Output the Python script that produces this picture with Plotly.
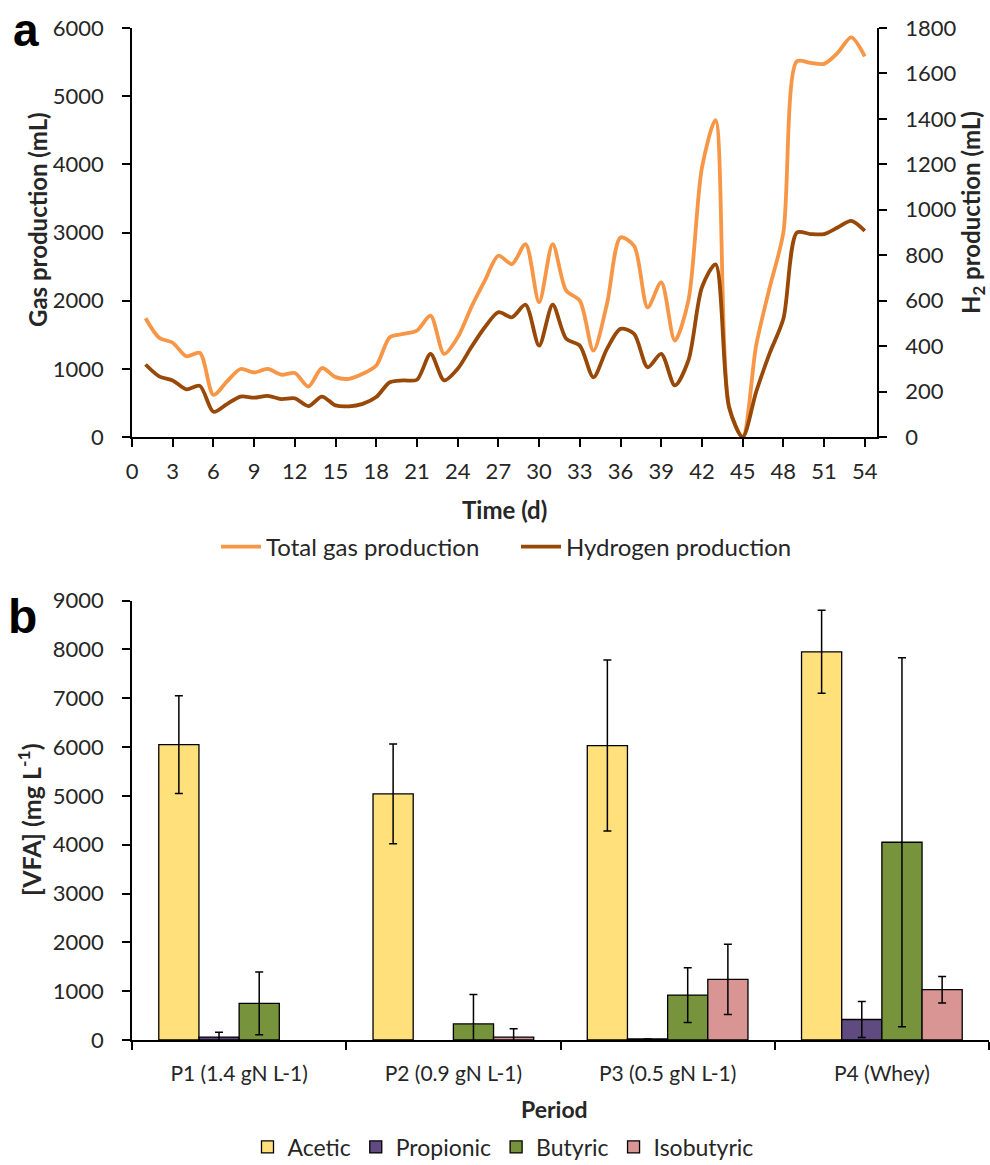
import plotly.graph_objects as go

# ---------------- data ----------------
days = list(range(1, 55))
total_gas = [1743, 1457, 1383, 1185, 1235, 617, 815, 998, 948, 998, 914, 938, 741, 1012,
             878, 854, 927, 1049, 1463, 1512, 1561, 1780, 1220, 1463, 1902, 2293, 2659, 2537,
             2829, 1976, 2829, 2146, 2000, 1268, 1951, 2927, 2805, 1902, 2268, 1415, 2000, 3951,
             4650, 450, 0, 1350, 2200, 3000, 5512, 5488, 5473, 5634, 5863, 5585]
hydrogen = [319, 267, 249, 210, 225, 111, 145, 178, 173, 181, 167, 170, 136, 178,
            139, 135, 146, 176, 241, 249, 252, 366, 249, 300, 395, 483, 549, 527,
            582, 402, 582, 432, 402, 263, 388, 476, 454, 307, 366, 227, 337, 659,
            760, 130, 0, 200, 370, 520, 900, 893, 893, 922, 951, 907]
day_ticks = list(range(0, 55, 3))

periods = ["P1 (1.4 gN L-1)", "P2 (0.9 gN L-1)", "P3 (0.5 gN L-1)", "P4 (Whey)"]
acetic = [6050, 5040, 6030, 7950]
acetic_err = [1000, 1020, 1750, 850]
propionic = [60, None, 20, 420]
propionic_err = [100, None, None, 370]
butyric = [750, 330, 920, 4050]
butyric_err = [640, 600, 560, 3780]
isobutyric = [None, 60, 1240, 1030]
isobutyric_err = [None, 170, 720, 270]

# ---------------- styling ----------------
W, H = 990, 1165
FONT = "Lato"
TXT = "#262626"
ORANGE = "#F79646"
BROWN = "#984807"
C_ACE, C_PRO, C_BUT, C_ISO = "#FFE07A", "#5F4B7F", "#77933C", "#D99594"


def px_x(p):
    return p / W


def px_y(p):
    return 1 - p / H


fig = go.Figure()

fig.add_trace(go.Scatter(x=days, y=total_gas, name="Total gas production", mode="lines",
                         line=dict(color=ORANGE, width=3.8, shape="spline", smoothing=0.8),
                         xaxis="x", yaxis="y", legend="legend"))
fig.add_trace(go.Scatter(x=days, y=hydrogen, name="Hydrogen production", mode="lines",
                         line=dict(color=BROWN, width=3.8, shape="spline", smoothing=0.8),
                         xaxis="x", yaxis="y2", legend="legend"))

for name, vals, errs, col in [("Acetic", acetic, acetic_err, C_ACE),
                              ("Propionic", propionic, propionic_err, C_PRO),
                              ("Butyric", butyric, butyric_err, C_BUT),
                              ("Isobutyric", isobutyric, isobutyric_err, C_ISO)]:
    fig.add_trace(go.Bar(x=periods, y=vals, name=name,
                         marker=dict(color=col, line=dict(color="black", width=1.3)),
                         error_y=dict(type="data", array=errs, visible=True,
                                      color="black", thickness=1.5, width=4),
                         xaxis="x2", yaxis="y3", legend="legend2"))


def axis_style(size=22, standoff=12):
    return dict(showline=True, linecolor="black", linewidth=1.5, showgrid=False,
                zeroline=False, ticks="outside", ticklen=8, tickwidth=1.5,
                tickcolor="black", automargin=False, ticklabelstandoff=standoff,
                tickfont=dict(family=FONT, size=size, color=TXT))


top_dom_x = [px_x(132), px_x(877)]
top_dom_y = [px_y(437), px_y(28)]
bot_dom_x = [px_x(132), px_x(989)]
bot_dom_y = [px_y(1040), px_y(600.5)]

fig.update_layout(
    width=W, height=H,
    margin=dict(l=0, r=0, t=0, b=0, autoexpand=False),
    paper_bgcolor="white", plot_bgcolor="white",
    font=dict(family=FONT, color=TXT),
    barmode="group", bargap=0.25, bargroupgap=0,
    xaxis=dict(domain=top_dom_x, anchor="y", range=[0, 54.9], tickvals=day_ticks,
               **axis_style(22, 6)),
    yaxis=dict(domain=top_dom_y, anchor="x", range=[0, 6000], dtick=1000,
               **axis_style(22, 14)),
    yaxis2=dict(overlaying="y", side="right", anchor="x", range=[0, 1800], dtick=200,
                **axis_style(22, 14)),
    xaxis2=dict(domain=bot_dom_x, anchor="y3", type="category", range=[-0.5, 3.5],
                tickson="boundaries", **axis_style(21, 14)),
    yaxis3=dict(domain=bot_dom_y, anchor="x2", range=[0, 9000], dtick=1000,
                **axis_style(22, 14)),
    legend=dict(orientation="h", x=px_x(216), xanchor="left", y=px_y(547), yanchor="middle",
                font=dict(family=FONT, size=24, color=TXT), bgcolor="rgba(0,0,0,0)",
                itemwidth=40, entrywidth=245, entrywidthmode="pixels"),
    legend2=dict(orientation="h", x=px_x(503), xanchor="center", y=px_y(1147),
                 yanchor="middle", font=dict(family=FONT, size=23, color=TXT),
                 bgcolor="rgba(0,0,0,0)", itemwidth=30),
    showlegend=True,
)

ann = [
    dict(text="<b>a</b>", x=px_x(26), y=px_y(30), font=dict(family="Liberation Sans", size=46,
                                                         color="black")),
    dict(text="<b>b</b>", x=px_x(22), y=px_y(616), font=dict(family="Liberation Sans", size=48,
                                                          color="black")),
    dict(text="<b>Gas production (mL)</b>", x=px_x(37), y=px_y(220), textangle=-90,
         font=dict(family=FONT, size=24, color=TXT)),
    dict(text="<b>H<sub>2</sub> production (mL)</b>", x=px_x(972), y=px_y(213), textangle=-90,
         font=dict(family=FONT, size=24, color=TXT)),
    dict(text="<b>Time (d)</b>", x=px_x(505), y=px_y(509),
         font=dict(family=FONT, size=24, color=TXT)),
    dict(text="<b>[VFA] (mg L<sup>-1</sup>)</b>", x=px_x(29), y=px_y(820), textangle=-90,
         font=dict(family=FONT, size=25, color=TXT)),
    dict(text="<b>Period</b>", x=px_x(554), y=px_y(1109),
         font=dict(family=FONT, size=23, color=TXT)),
]
for a in ann:
    a.update(xref="paper", yref="paper", showarrow=False, xanchor="center", yanchor="middle")
fig.update_layout(annotations=ann)

fig.write_html("out.html")
